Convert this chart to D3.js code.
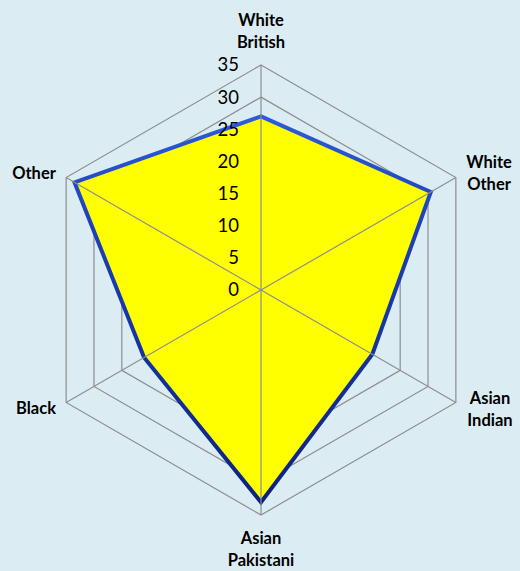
<!DOCTYPE html>
<meta charset="utf-8">
<style>
body { margin: 0; background: #dbedf3; }
.label { font-family: Lato, "Open Sans", sans-serif; font-weight: bold; font-size: 16.5px; fill: #000; }
.tick { font-family: Lato, "Open Sans", sans-serif; font-size: 18.5px; fill: #000; }
</style>
<svg width="520" height="571"></svg>
<script src="https://d3js.org/d3.v7.min.js"></script>
<script>

// categories, clockwise from the top
var categories = ["White British", "White Other", "Asian Indian", "Asian Pakistani", "Black", "Other"];
var values = [27, 30.5, 20, 33, 21, 33.5];
var tickValues = [0, 5, 10, 15, 20, 25, 30, 35];

var svg = d3.select("svg"),
    cx = 261, cy = 290;

svg.append("rect").attr("width", 520).attr("height", 571).attr("fill", "#dbedf3");

var r = d3.scaleLinear().domain([0, 35]).range([0, 225]);
var angle = d3.scalePoint().domain(categories).range([0, 300]); // degrees

function pt(cat, v) {
  var a = angle(cat) * Math.PI / 180;
  return [cx + r(v) * Math.sin(a), cy - r(v) * Math.cos(a)];
}

var g = svg.append("g");

// rings
tickValues.slice(1).forEach(function(t) {
  g.append("polygon")
    .attr("points", categories.map(function(c) { return pt(c, t).join(","); }).join(" "))
    .attr("fill", "none")
    .attr("stroke", "#8e8e8e")
    .attr("stroke-width", 1.2);
});

// stroke gradient
var defs = svg.append("defs");
var grad = defs.append("linearGradient")
  .attr("id", "lineGrad")
  .attr("gradientUnits", "userSpaceOnUse")
  .attr("x1", 0).attr("y1", 110).attr("x2", 0).attr("y2", 505);
grad.append("stop").attr("offset", "0%").attr("stop-color", "#2d5de0");
grad.append("stop").attr("offset", "30%").attr("stop-color", "#1d40b8");
grad.append("stop").attr("offset", "100%").attr("stop-color", "#0c2280");

// data area
g.append("polygon")
  .attr("points", categories.map(function(c, i) { return pt(c, values[i]).join(","); }).join(" "))
  .attr("fill", "#ffff00")
  .attr("stroke", "url(#lineGrad)")
  .attr("stroke-width", 4)
  .attr("stroke-linejoin", "miter");

// spokes on top
categories.forEach(function(c) {
  var p = pt(c, 35);
  g.append("line")
    .attr("x1", cx).attr("y1", cy)
    .attr("x2", p[0]).attr("y2", p[1])
    .attr("stroke", "#8e8e8e")
    .attr("stroke-width", 1.2);
});

// tick labels
g.selectAll(".tick")
  .data(tickValues)
  .enter().append("text")
    .attr("class", "tick")
    .attr("x", cx - 22)
    .attr("y", function(d) { return cy - r(d); })
    .attr("dy", "0.35em")
    .attr("text-anchor", "end")
    .text(function(d) { return d; });

// category labels
var labelPos = [
  { x: 261, y: 20, lines: ["White", "British"] },
  { x: 489, y: 162, lines: ["White", "Other"] },
  { x: 490, y: 398, lines: ["Asian", "Indian"] },
  { x: 261, y: 538, lines: ["Asian", "Pakistani"] },
  { x: 36, y: 408, lines: ["Black"] },
  { x: 34, y: 173, lines: ["Other"] }
];

labelPos.forEach(function(l) {
  var t = g.append("text")
    .attr("class", "label")
    .attr("text-anchor", "middle")
    .attr("x", l.x)
    .attr("y", l.y);
  l.lines.forEach(function(s, i) {
    t.append("tspan")
      .attr("x", l.x)
      .attr("y", l.y + i * 22)
      .attr("dy", "0.35em")
      .text(s);
  });
});

</script>
